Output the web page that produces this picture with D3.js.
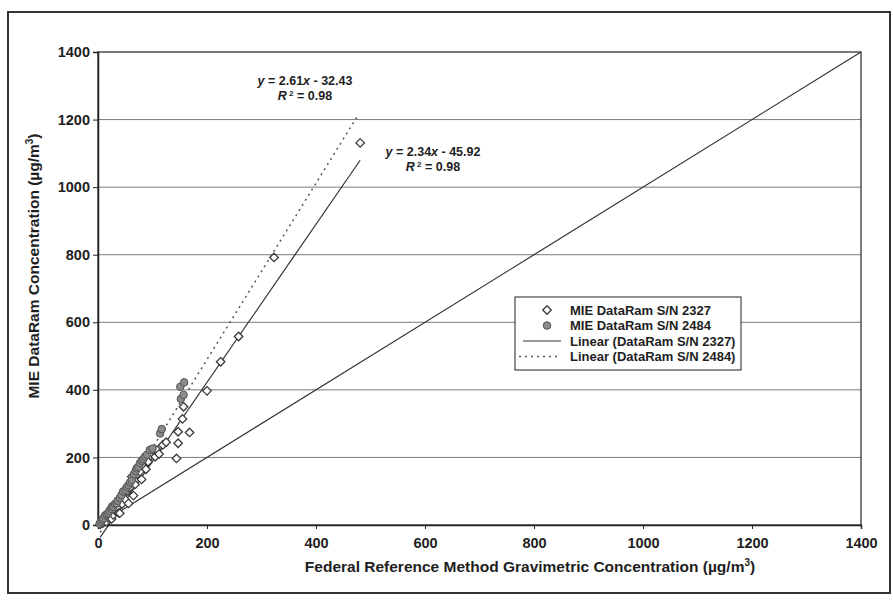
<!DOCTYPE html>
<html>
<head>
<meta charset="utf-8">
<script src="https://cdn.jsdelivr.net/npm/d3@7"></script>
<style>
body { margin: 0; background: #fff; }
text { font-family: "Liberation Sans", Arial, sans-serif; font-weight: bold; fill: #1e1e1e; }
</style>
</head>
<body>
<svg id="chart" width="893" height="602"></svg>
<script>
// values
const xTicks = [0, 200, 400, 600, 800, 1000, 1200, 1400]
const yTicks = [0, 200, 400, 600, 800, 1000, 1200, 1400]

// MIE DataRam S/N 2327 (diamonds): [FRM, DataRam]
const dataram2327 = [
    [4, 2], [8, 6], [12, 14], [15, 10], [18, 22], [22, 35], [25, 18], [28, 30],
    [32, 42], [35, 50], [38, 36], [40, 35], [44, 62], [46, 94], [50, 75], [53, 100],
    [56, 64], [58, 110], [62, 143], [65, 87], [68, 120], [72, 150], [77, 158], [80, 135],
    [83, 173], [88, 165], [92, 187], [97, 205], [105, 202], [108, 222], [112, 210], [119, 237],
    [125, 245], [144, 197], [147, 242], [147, 276], [155, 314], [157, 350], [168, 274], [200, 397],
    [225, 483], [258, 558], [323, 792], [481, 1131]
]

// MIE DataRam S/N 2484 (grey dots)
const dataram2484 = [
    [3, 4], [6, 10], [8, 16], [10, 20], [13, 28], [16, 32], [19, 35], [21, 42],
    [24, 48], [26, 55], [28, 54], [31, 62], [34, 64], [36, 72], [40, 80], [43, 88],
    [46, 99], [50, 104], [53, 112], [56, 118], [59, 126], [62, 133], [66, 150], [69, 160],
    [71, 168], [74, 172], [77, 183], [80, 190], [83, 195], [86, 202], [90, 208], [95, 222],
    [100, 226], [114, 271], [117, 284], [152, 373], [157, 385], [151, 409], [158, 422]
]

// linear fits: slope, intercept, x range
const fit2327 = {slope: 2.34, intercept: -45.92, from: 4, to: 481, r2: 0.98}
const fit2484 = {slope: 2.61, intercept: -32.43, from: 4, to: 477, r2: 0.98}
const oneToOne = [[0, 0], [1400, 1400]]

const legendLabels = ["MIE DataRam S/N 2327", "MIE DataRam S/N 2484",
    "Linear (DataRam S/N 2327)", "Linear (DataRam S/N 2484)"]

const svg = d3.select("#chart")
const m = {left: 98, top: 52, right: 861, bottom: 525}

const x = d3.scaleLinear().domain([0, 1400]).range([m.left, m.right])
const y = d3.scaleLinear().domain([0, 1400]).range([m.bottom, m.top])

// outer frame
svg.append("rect")
    .attr("x", 8).attr("y", 12).attr("width", 882).attr("height", 581)
    .attr("fill", "#fff").attr("stroke", "#333").attr("stroke-width", 2)

// grid
svg.append("g").selectAll("line")
    .data(yTicks.filter(d => d > 0 && d < 1400))
    .join("line")
    .attr("x1", m.left).attr("x2", m.right)
    .attr("y1", d => y(d)).attr("y2", d => y(d))
    .attr("stroke", "#7a7a7a").attr("stroke-width", 1)

// plot border
svg.append("rect")
    .attr("x", m.left).attr("y", m.top)
    .attr("width", m.right - m.left).attr("height", m.bottom - m.top)
    .attr("fill", "none").attr("stroke", "#222").attr("stroke-width", 1.2)

const xAxis = svg.append("g")
    .attr("transform", `translate(0,${m.bottom})`)
    .call(d3.axisBottom(x).tickValues(xTicks).tickFormat(d3.format("d")).tickSize(4).tickPadding(9))
const yAxis = svg.append("g")
    .attr("transform", `translate(${m.left},0)`)
    .call(d3.axisLeft(y).tickValues(yTicks).tickFormat(d3.format("d")).tickSize(5).tickPadding(3))

for (const ax of [xAxis, yAxis]) {
    ax.select(".domain").attr("stroke", "#222").attr("stroke-width", 1.5)
    ax.selectAll(".tick line").attr("stroke", "#222")
    ax.selectAll(".tick text")
        .attr("font-family", "Liberation Sans, Arial, sans-serif")
        .attr("font-weight", "bold").attr("font-size", 14.5).attr("fill", "#1e1e1e")
}

// axis titles
const xTitle = svg.append("text")
    .attr("x", 530).attr("y", 572).attr("text-anchor", "middle").attr("font-size", 15.5)
xTitle.append("tspan").text("Federal Reference Method Gravimetric Concentration (µg/m")
xTitle.append("tspan").attr("dy", -6).attr("font-size", 10).text("3")
xTitle.append("tspan").attr("dy", 6).text(")")

const yTitle = svg.append("text")
    .attr("transform", "translate(39,266) rotate(-90)")
    .attr("text-anchor", "middle").attr("font-size", 15.5)
yTitle.append("tspan").text("MIE DataRam Concentration (µg/m")
yTitle.append("tspan").attr("dy", -6).attr("font-size", 10).text("3")
yTitle.append("tspan").attr("dy", 6).text(")")

// lines
const line = d3.line().x(d => x(d[0])).y(d => y(d[1]))
const fitPoints = f => [[f.from, f.slope * f.from + f.intercept], [f.to, f.slope * f.to + f.intercept]]

svg.append("path").attr("d", line(oneToOne))
    .attr("fill", "none").attr("stroke", "#333").attr("stroke-width", 1.2)
svg.append("path").attr("d", line(fitPoints(fit2327)))
    .attr("fill", "none").attr("stroke", "#333").attr("stroke-width", 1.2)
svg.append("path").attr("d", line(fitPoints(fit2484)))
    .attr("fill", "none").attr("stroke", "#555").attr("stroke-width", 1.5)
    .attr("stroke-dasharray", "2,4")

// points
const diamond = d3.symbol().type(d3.symbolDiamond2).size(46)
svg.append("g").selectAll("path")
    .data(dataram2327)
    .join("path")
    .attr("d", diamond)
    .attr("transform", d => `translate(${x(d[0])},${y(d[1])})`)
    .attr("fill", "#fff").attr("stroke", "#3a3a3a").attr("stroke-width", 1.3)

svg.append("g").selectAll("circle")
    .data(dataram2484)
    .join("circle")
    .attr("cx", d => x(d[0])).attr("cy", d => y(d[1])).attr("r", 3.8)
    .attr("fill", "#8a8a8a").attr("stroke", "#555").attr("stroke-width", 1)

// equations
function equation(cx, cy, f) {
    const t1 = svg.append("text").attr("x", cx).attr("y", cy)
        .attr("text-anchor", "middle").attr("font-size", 12.5)
    t1.append("tspan").attr("font-style", "italic").text("y")
    t1.append("tspan").text(` = ${f.slope.toFixed(2)}`)
    t1.append("tspan").attr("font-style", "italic").text("x")
    t1.append("tspan").text(` - ${Math.abs(f.intercept).toFixed(2)}`)
    const t2 = svg.append("text").attr("x", cx).attr("y", cy + 15)
        .attr("text-anchor", "middle").attr("font-size", 12.5)
    t2.append("tspan").attr("font-style", "italic").text("R")
    t2.append("tspan").attr("dy", -4).attr("font-size", 8).text(" 2")
    t2.append("tspan").attr("dy", 4).text(` = ${f.r2.toFixed(2)}`)
}
equation(305, 85, fit2484)
equation(433, 156, fit2327)

// legend
const lg = svg.append("g").attr("transform", "translate(515,297)")
lg.append("rect").attr("width", 226).attr("height", 73)
    .attr("fill", "#fff").attr("stroke", "#222").attr("stroke-width", 1)
const rows = lg.selectAll("g.row").data(legendLabels).join("g")
    .attr("class", "row")
    .attr("transform", (d, i) => `translate(0,${13 + i * 15.5})`)
rows.append("text").attr("x", 55).attr("y", 4.5).attr("font-size", 13).text(d => d)
rows.filter((d, i) => i == 0).append("path")
    .attr("d", diamond).attr("transform", "translate(32,0)")
    .attr("fill", "#fff").attr("stroke", "#3a3a3a").attr("stroke-width", 1.3)
rows.filter((d, i) => i == 1).append("circle")
    .attr("cx", 32).attr("r", 3.8)
    .attr("fill", "#8a8a8a").attr("stroke", "#555")
rows.filter((d, i) => i == 2).append("line")
    .attr("x1", 8).attr("x2", 46).attr("stroke", "#333").attr("stroke-width", 1.2)
rows.filter((d, i) => i == 3).append("line")
    .attr("x1", 4).attr("x2", 46).attr("stroke", "#555").attr("stroke-width", 1.5)
    .attr("stroke-dasharray", "2,4")
</script>
</body>
</html>
